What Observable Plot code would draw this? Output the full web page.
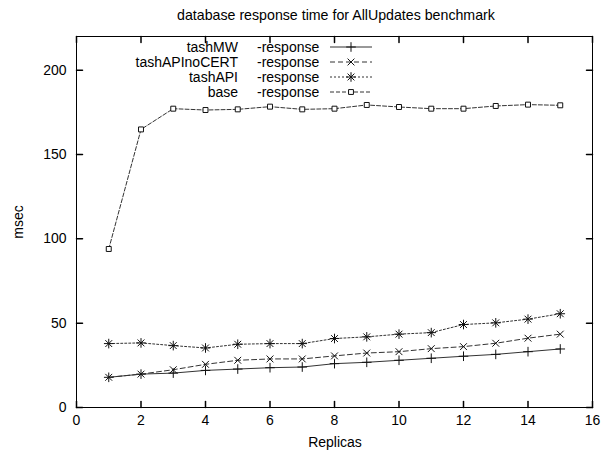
<!DOCTYPE html>
<html>
<head>
<meta charset="utf-8">
<script src="https://cdn.jsdelivr.net/npm/d3@7"></script>
<script src="https://cdn.jsdelivr.net/npm/@observablehq/plot@0.6"></script>
<style>
  html, body { margin: 0; padding: 0; background: #fff; }
  svg { display: block; }
</style>
</head>
<body>
<div id="chart"></div>
<script>
const replicas = [1, 2, 3, 4, 5, 6, 7, 8, 9, 10, 11, 12, 13, 14, 15];
const tashMW = [17.9, 19.8, 20.4, 22.0, 22.8, 23.6, 24.0, 26.0, 26.8, 28.0, 29.2, 30.4, 31.5, 33.1, 34.7];
const tashAPInoCERT = [17.9, 19.8, 22.4, 25.6, 28.0, 28.8, 28.8, 30.6, 32.3, 33.1, 34.9, 36.1, 38.1, 41.1, 43.5];
const tashAPI = [37.9, 38.3, 36.7, 35.3, 37.5, 37.9, 37.9, 40.9, 41.9, 43.5, 44.4, 49.2, 50.2, 52.4, 55.6];
const base = [94, 164.9, 177.2, 176.4, 176.8, 178.4, 176.8, 177.2, 179.4, 178.2, 177.2, 177.2, 178.8, 179.6, 179.2];
const seriesNames = ["tashMW", "tashAPInoCERT", "tashAPI", "base"];
const xTicks = [0, 2, 4, 6, 8, 10, 12, 14, 16];
const yTicks = [0, 50, 100, 150, 200];

const seriesValues = [tashMW, tashAPInoCERT, tashAPI, base];
const styles = {
  tashMW: {dash: null, symbols: ["plus"]},
  tashAPInoCERT: {dash: "5,3", symbols: ["times"]},
  tashAPI: {dash: "2,2", symbols: ["plus", "times"]},
  base: {dash: "4,2", symbols: ["square"]}
};

const rows = [];
seriesNames.forEach((name, i) => {
  replicas.forEach((r, j) => rows.push({series: name, x: r, y: seriesValues[i][j]}));
});

const font = "Liberation Sans, Arial, sans-serif";
const tickLine = {draw(context, l) { context.moveTo(0, 0); context.lineTo(0, -l); }};

const marks = [];
// inward ticks (gnuplot style, mirrored)
marks.push(Plot.vector(xTicks, {x: d => d, y: 0, length: 6, rotate: 0, anchor: "start", shape: tickLine, stroke: "#000"}));
marks.push(Plot.vector(xTicks, {x: d => d, y: 220, length: 6, rotate: 180, anchor: "start", shape: tickLine, stroke: "#000"}));
marks.push(Plot.vector(yTicks, {y: d => d, x: 0, length: 6, rotate: 90, anchor: "start", shape: tickLine, stroke: "#000"}));
marks.push(Plot.vector(yTicks, {y: d => d, x: 16, length: 6, rotate: 270, anchor: "start", shape: tickLine, stroke: "#000"}));

seriesNames.forEach(name => {
  const data = rows.filter(d => d.series === name);
  marks.push(Plot.line(data, {x: "x", y: "y", stroke: "#333", strokeWidth: 1, strokeDasharray: styles[name].dash}));
  styles[name].symbols.forEach(sym => {
    marks.push(Plot.dot(data, {x: "x", y: "y", symbol: sym, r: sym === "square" ? 2.8 : 3.2, stroke: "#111", fill: sym === "square" ? "white" : "none", strokeWidth: 1}));
  });
});

marks.push(Plot.frame({stroke: "#000", strokeWidth: 1}));
marks.push(Plot.axisX({ticks: xTicks, tickSize: 0, tickPadding: 8, fontSize: 14, label: null}));
marks.push(Plot.axisY({ticks: yTicks, tickSize: 0, tickPadding: 10, fontSize: 14, label: null}));

const chart = Plot.plot({
  width: 611,
  height: 451,
  marginLeft: 76,
  marginRight: 19,
  marginTop: 36,
  marginBottom: 44,
  style: {fontFamily: font, fontSize: "14px", color: "#000", background: "#fff"},
  x: {domain: [0, 16]},
  y: {domain: [0, 220]},
  marks
});

const svg = d3.select(chart);
// title
svg.append("text").attr("x", 336).attr("y", 20).attr("text-anchor", "middle")
  .attr("font-family", font).attr("font-size", 14.2).text("database response time for AllUpdates benchmark");
// axis labels
svg.append("text").attr("x", 335).attr("y", 447).attr("text-anchor", "middle")
  .attr("font-family", font).attr("font-size", 14).text("Replicas");
svg.append("text").attr("transform", "translate(23,222) rotate(-90)").attr("text-anchor", "middle")
  .attr("font-family", font).attr("font-size", 14).text("msec");

// legend
const lg = svg.append("g").attr("font-family", font).attr("font-size", 14);
seriesNames.forEach((name, i) => {
  const y = 47 + i * 15;
  lg.append("text").attr("x", 238).attr("y", y).attr("dy", "0.35em").attr("text-anchor", "end").text(name);
  lg.append("text").attr("x", 257).attr("y", y).attr("dy", "0.35em").attr("text-anchor", "start").text("-response");
  lg.append("line").attr("x1", 330).attr("x2", 372).attr("y1", y).attr("y2", y)
    .attr("stroke", "#333").attr("stroke-dasharray", styles[name].dash);
  styles[name].symbols.forEach(sym => {
    const s = d3.symbol(sym === "plus" ? d3.symbolPlus : sym === "times" ? d3.symbolTimes : d3.symbolSquare2,
      sym === "square" ? 30 : 32);
    lg.append("path").attr("d", s()).attr("transform", `translate(351,${y})`)
      .attr("stroke", "#111").attr("fill", sym === "square" ? "white" : "none");
  });
});

document.getElementById("chart").appendChild(chart);
</script>
</body>
</html>
